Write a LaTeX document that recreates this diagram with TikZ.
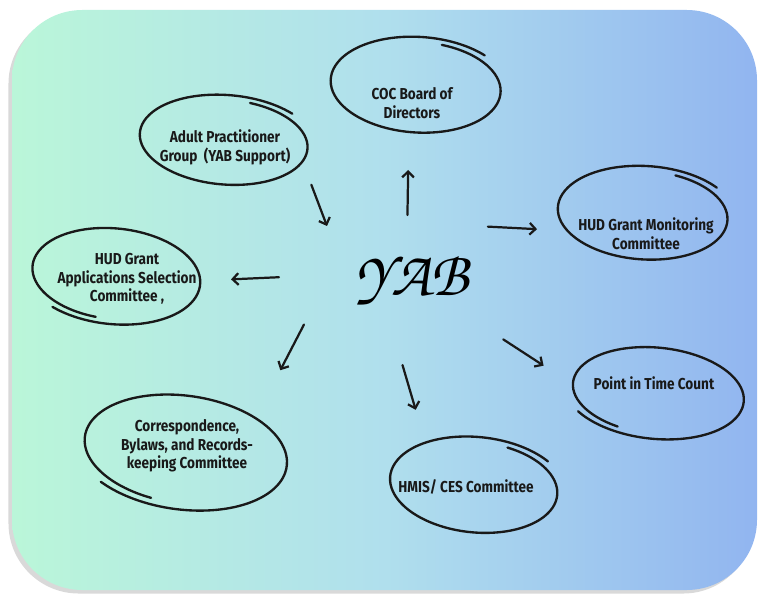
\documentclass[tikz,border=0pt]{standalone}
\usepackage{fontspec}
\newfontfamily\bubblefont{Fira Sans}[FakeStretch=0.86]
\usetikzlibrary{calc,arrows.meta,shadows}

\pgfdeclarehorizontalshading{yabsky}{100bp}{rgb(0bp)=(0.73,0.965,0.85); rgb(25bp)=(0.73,0.965,0.85); rgb(50bp)=(0.69,0.875,0.93); rgb(75bp)=(0.57,0.71,0.94); rgb(100bp)=(0.57,0.71,0.94)}

\tikzset{
  bubble/.style={font=\bubblefont\bfseries\fontsize{13.5}{16}\selectfont, align=center, text=black!90},
  loopline/.style={line width=2pt, draw=black!90, line cap=round},
  sketcharrow/.style={line width=1.9pt, draw=black!90, line cap=round, -{Straight Barb[length=5pt,width=10pt]}},
}

% hand drawn loop round a bubble: node, dx, dy, rx, ry, start angle, tilt
\newcommand{\handloop}[7]{%
  \pgfmathsetmacro\loopend{#6+390}
  \draw[loopline, shift={($(#1)+(#2,#3)$)}, rotate=#7] plot[smooth, samples=90, domain=#6:\loopend] ({#4*(0.94+0.0003*(\x-#6))*cos(\x)}, {#5*(0.94+0.0003*(\x-#6))*sin(\x)});
}

\begin{document}
\begin{tikzpicture}[x=0.03cm, y=-0.03cm]
\useasboundingbox (0,0) rectangle (762,597);
% sfondo
\shade[shading=yabsky, rounded corners=60pt, drop shadow={opacity=0.3, shadow xshift=-3pt, shadow yshift=-3pt}] (12,10) rectangle (757,590);
% centro
\node (yab) at (412,280) {\fontencoding{T1}\fontfamily{pzc}\fontsize{54}{54}\selectfont\itshape YAB};
% bolle
\node[bubble] (coc) at (412,103) {COC Board of\\Directors};
\node[bubble] (adult) at (225,147) {Adult Practitioner\\Group~~(YAB Support)};
\node[bubble] (mon) at (646,234) {HUD Grant Monitoring\\Committee};
\node[bubble] (app) at (127,279) {HUD Grant\\Applications Selection\\Committee ,};
\node[bubble] (pit) at (654,383) {Point in Time Count};
\node[bubble] (cor) at (187,446) {Correspondence,\\Bylaws, and Records-\\keeping Committee};
\node[bubble] (hmis) at (466,487) {HMIS/ CES Committee};
\handloop{coc}{6}{-17}{86}{47}{285}{-4}
\handloop{adult}{1}{-6}{85}{44}{285}{-5}
\handloop{mon}{-1}{-20}{86}{46}{290}{-4}
\handloop{app}{-13}{-4}{85}{47}{100}{-6}
\handloop{pit}{2}{9}{87}{45}{115}{-6}
\handloop{cor}{-4}{5}{103}{56}{105}{-8}
\handloop{hmis}{10}{-1}{85}{47}{290}{-6}
% frecce
\draw[sketcharrow] ($(yab)!0.368!4:(coc)$) -- ($(yab)!0.622!2:(coc)$);
\draw[sketcharrow] ($(yab)!0.604!-8:(adult)$) -- ($(yab)!0.439!3:(adult)$);
\draw[sketcharrow] ($(yab)!0.389!24:(mon)$) -- ($(yab)!0.566!11:(mon)$);
\draw[sketcharrow] ($(yab)!0.467!-1:(app)$) -- ($(yab)!0.635!0:(app)$);
\draw[sketcharrow] ($(yab)!0.418!-14:(cor)$) -- ($(yab)!0.571!-2:(cor)$);
\draw[sketcharrow] ($(yab)!0.40!-21:(hmis)$) -- ($(yab)!0.607!-13:(hmis)$);
\draw[sketcharrow] ($(yab)!0.414!-10:(pit)$) -- ($(yab)!0.597!-10:(pit)$);
\end{tikzpicture}
\end{document}
